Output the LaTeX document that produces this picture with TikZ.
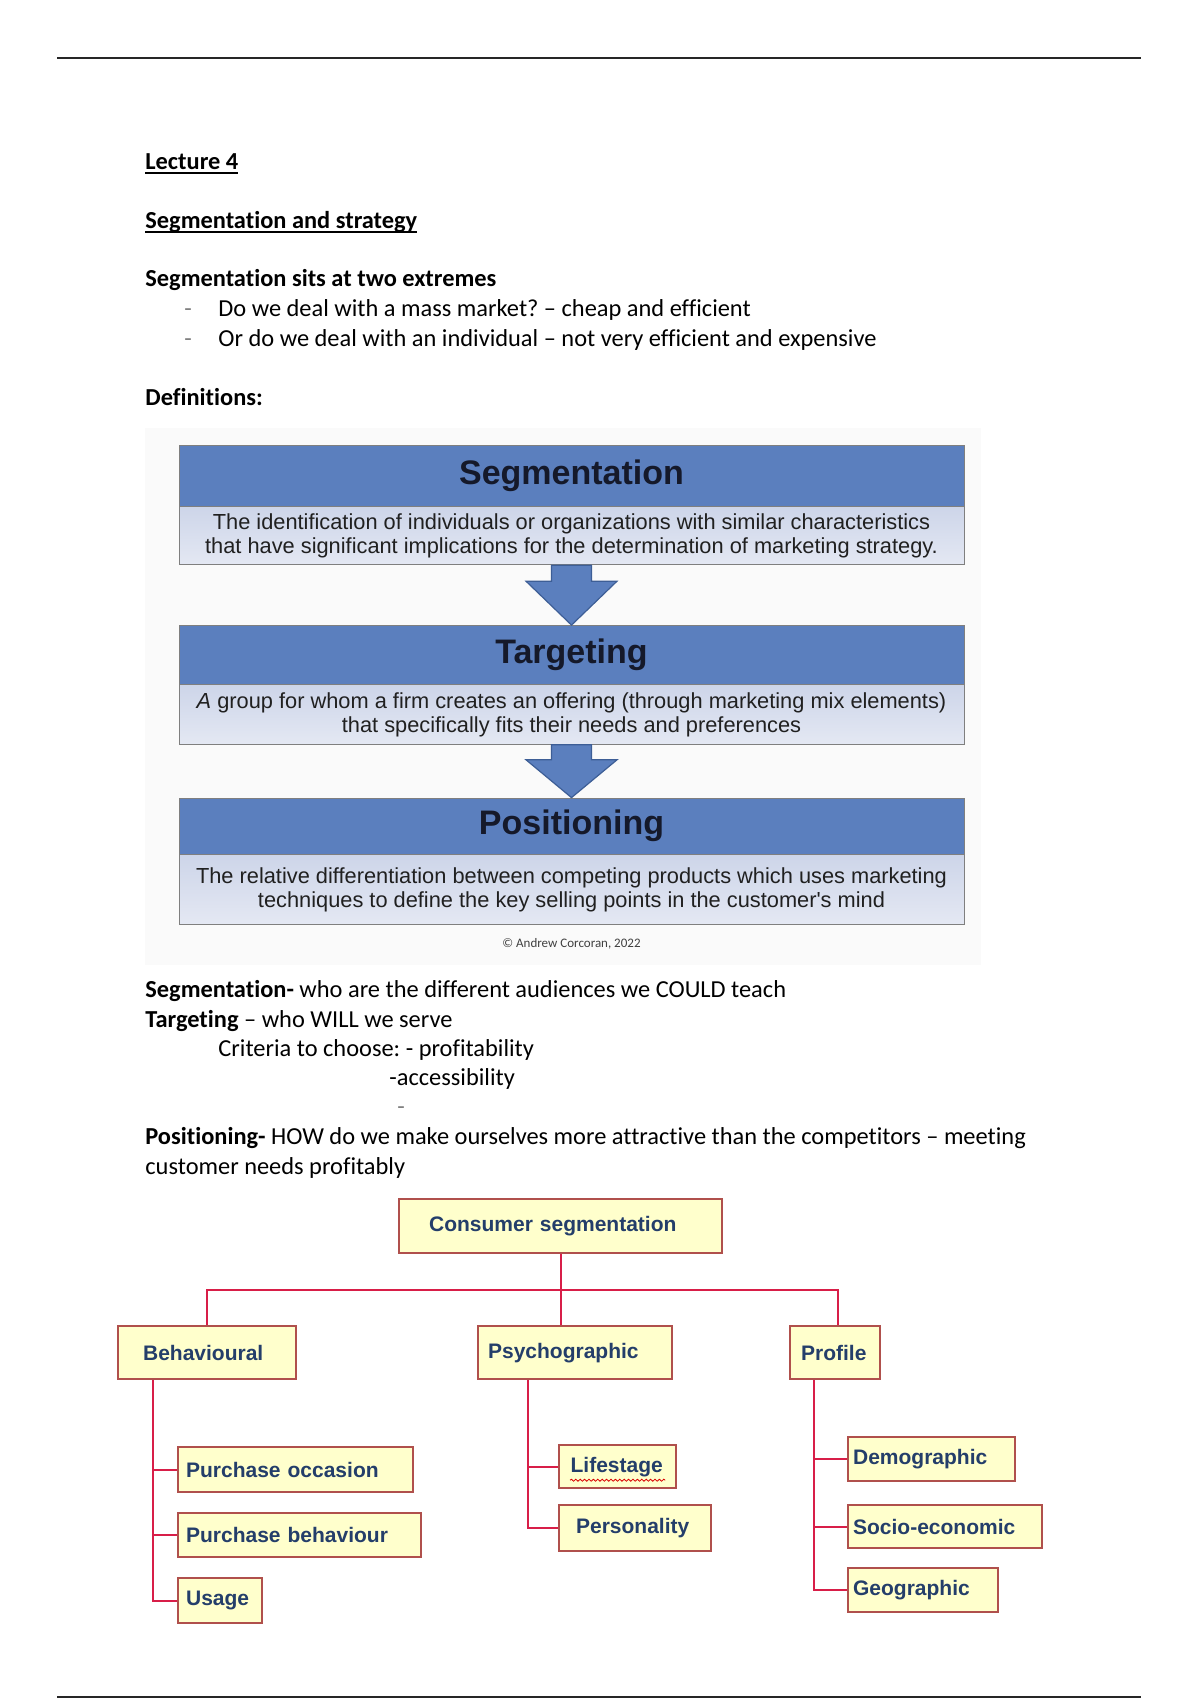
\documentclass[tikz,border=0pt]{standalone}
\usepackage{fontspec}
\setmainfont{Carlito}[Ligatures=NoCommon]
\newfontfamily\arialfont{Liberation Sans}
\usetikzlibrary{positioning,calc,decorations.pathmorphing}

\definecolor{stpblue}{HTML}{5B7FBE}
\definecolor{stpedge}{HTML}{7F7F7F}
\definecolor{stplight}{HTML}{CDD5E9}
\definecolor{stplighter}{HTML}{E4E8F3}
\definecolor{arrowedge}{HTML}{3D5E96}
\definecolor{titleink}{HTML}{15192A}
\definecolor{bodyink}{HTML}{202020}
\definecolor{boxfill}{HTML}{FFFFCC}
\definecolor{boxedge}{HTML}{B0504C}
\definecolor{linkred}{HTML}{D81E48}
\definecolor{navyink}{HTML}{243E6A}

% underline that sits through the descenders, as a word processor draws it
\newcommand\ulword[1]{\setbox0\hbox{#1}\rlap{\rule[-1.8pt]{\wd0}{0.7pt}}\box0}

\frenchspacing
\begin{document}
\begin{tikzpicture}[x=0.5pt,y=-0.5pt,
  bodytxt/.style={anchor=base west, inner sep=0pt, font=\fontsize{12.2}{14}\selectfont},
  stphead/.style={draw=stpedge, fill=stpblue, minimum width=392.5pt, inner sep=0pt,
    text=titleink, font=\arialfont\bfseries\fontsize{17}{20}\selectfont},
  stpbody/.style={draw=stpedge, top color=stplight, bottom color=stplighter,
    minimum width=392.5pt, inner sep=0pt, align=center, text=bodyink,
    font=\arialfont\fontsize{10.9}{12}\selectfont},
  stparrow/.style={draw=arrowedge, fill=stpblue, line width=0.6pt, line join=miter},
  treebox/.style={draw=boxedge, fill=boxfill, line width=1.1pt, anchor=north west,
    align=left, inner ysep=0pt, text=navyink,
    font=\arialfont\bfseries\fontsize{10.5}{12}\selectfont},
  link/.style={draw=linkred, line width=1pt}]
  \useasboundingbox (0,0) rectangle (1200,1700);
  \fill[white] (0,0) rectangle (1200,1700);

  % page rules
  \draw[line width=1pt, black!85] (57,58) -- (1141,58);
  \draw[line width=1pt, black!85] (57,1697) -- (1141,1697);

  % heading and opening notes
  \node[bodytxt] (lec) at (145,170) {\textbf{\ulword{Lecture 4}}};
  \node[bodytxt] (strat) at (145,229) {\textbf{\ulword{Segmentation and strategy}}};
  \node[bodytxt] (extremes) at (145,287) {\textbf{Segmentation sits at two extremes}};
  \node[bodytxt, text=gray] (dasha) at (184,317) {-};
  \node[bodytxt] (mass) at (218,317) {Do we deal with a mass market? – cheap and efficient};
  \node[bodytxt, text=gray] (dashb) at (184,347) {-};
  \node[bodytxt] (indiv) at (218,347) {Or do we deal with an individual – not very efficient and expensive};
  \node[bodytxt] (defs) at (145,406) {\textbf{Definitions:}};

  % STP figure
  \fill[gray!4] (145,428) rectangle (981,965);
  \node[stphead, minimum height=30.25pt] (segh) at (571.5,475.75) {Segmentation};
  \node[stpbody, minimum height=29pt, below=0pt of segh] (segb)
    {The identification of individuals or organizations with similar characteristics\\
     that have significant implications for the determination of marketing strategy.};
  \node[stphead, minimum height=29.25pt] (targh) at (571.5,654.75) {Targeting};
  \node[stpbody, minimum height=29.8pt, below=0pt of targh] (targb)
    {\textit{A} group for whom a firm creates an offering (through marketing mix elements)\\
     that specifically fits their needs and preferences};
  \node[stphead, minimum height=28pt] (posh) at (571.5,826) {Positioning};
  \node[stpbody, minimum height=34.8pt, below=0pt of posh] (posb)
    {The relative differentiation between competing products which uses marketing\\
     techniques to define the key selling points in the customer's mind};
  \node[font=\fontsize{6.5}{8}\selectfont, text=black!75, inner sep=0pt] (copy)
    at (571.5,944) {© Andrew Corcoran, 2022};
  \draw[stparrow] ($(segb.south)+(-20,0)$) -- ++(0,16) -- ++(-25.5,0) -- (targh.north)
    -- ($(segb.south)+(45.5,16)$) -- ++(-25.5,0) -- ++(0,-16) -- cycle;
  \draw[stparrow] ($(targb.south)+(-20,0)$) -- ++(0,15) -- ++(-25.5,0) -- (posh.north)
    -- ($(targb.south)+(45.5,15)$) -- ++(-25.5,0) -- ++(0,-15) -- cycle;

  % notes on the three steps
  \node[bodytxt] (segnote) at (145,997) {\textbf{Segmentation-} who are the different audiences we COULD teach};
  \node[bodytxt] (targnote) at (145,1027) {\textbf{Targeting} – who WILL we serve};
  \node[bodytxt] (crit) at (218,1056) {Criteria to choose: - profitability};
  \node[bodytxt] (access) at (389,1085) {-accessibility};
  \node[bodytxt, text=gray] (blank) at (397,1114) {-};
  \node[bodytxt] (posnote) at (145,1144) {\textbf{Positioning-} HOW do we make ourselves more attractive than the competitors – meeting};
  \node[bodytxt] (posnoteb) at (145,1174) {customer needs profitably};

  % consumer segmentation tree
  \node[treebox, text width=131.5pt, inner xsep=15pt, minimum height=27pt] (cs) at (398,1198) {Consumer segmentation};
  \node[treebox, text width=64pt, inner xsep=12.5pt, minimum height=26.5pt] (beh) at (117,1325) {Behavioural};
  \node[treebox, text width=87pt, inner xsep=5pt, minimum height=26.5pt] (psy) at (477,1325) {Psychographic};
  \node[treebox, text width=34pt, inner xsep=5.5pt, minimum height=26.5pt] (prof) at (789,1325) {Profile};

  \node[treebox, text width=109.5pt, inner xsep=4pt, minimum height=22.5pt] (occ) at (177,1446) {Purchase occasion};
  \node[treebox, text width=113.5pt, inner xsep=4pt, minimum height=22pt] (pbeh) at (177,1512) {Purchase behaviour};
  \node[treebox, text width=34pt, inner xsep=4pt, minimum height=22.5pt] (use) at (177,1577) {Usage};

  \node[treebox, text width=47pt, inner xsep=5.75pt, minimum height=21.5pt] (life) at (558,1444) {Lifestage};
  \node[treebox, text width=59pt, inner xsep=8.5pt, minimum height=23pt] (pers) at (558,1504) {Personality};

  \node[treebox, text width=78.5pt, inner xsep=2.5pt, minimum height=22pt] (demo) at (847,1436) {Demographic};
  \node[treebox, text width=92pt, inner xsep=2.5pt, minimum height=21.5pt] (socio) at (847,1504) {Socio-economic};
  \node[treebox, text width=70pt, inner xsep=2.5pt, minimum height=22pt] (geo) at (847,1567) {Geographic};

  % spell-check squiggle
  \draw[red!85!black, line width=0.4pt, decorate, decoration={snake, amplitude=0.5pt, segment length=2.2pt}]
    ($(life.south west)+(12,-9)$) -- ($(life.south east)+(-12,-9)$);

  \coordinate (bar) at ($(cs.south)+(0,36)$);
  \draw[link] (cs.south) -- (cs.south |- psy.north);
  \draw[link] (beh.north) |- (bar) -| ($(prof.north)+(3,0)$);

  \coordinate (behspine) at ($(beh.south west)+(36,0)$);
  \draw[link] (behspine) |- (use.west);
  \draw[link] (behspine |- occ.west) -- (occ.west);
  \draw[link] (behspine |- pbeh.west) -- (pbeh.west);

  \coordinate (psyspine) at ($(psy.south west)+(51,0)$);
  \draw[link] (psyspine) |- (pers.west);
  \draw[link] (psyspine |- life.west) -- (life.west);

  \coordinate (profspine) at ($(prof.south west)+(25,0)$);
  \draw[link] (profspine) |- (geo.west);
  \draw[link] (profspine |- demo.west) -- (demo.west);
  \draw[link] (profspine |- socio.west) -- (socio.west);
\end{tikzpicture}
\end{document}
